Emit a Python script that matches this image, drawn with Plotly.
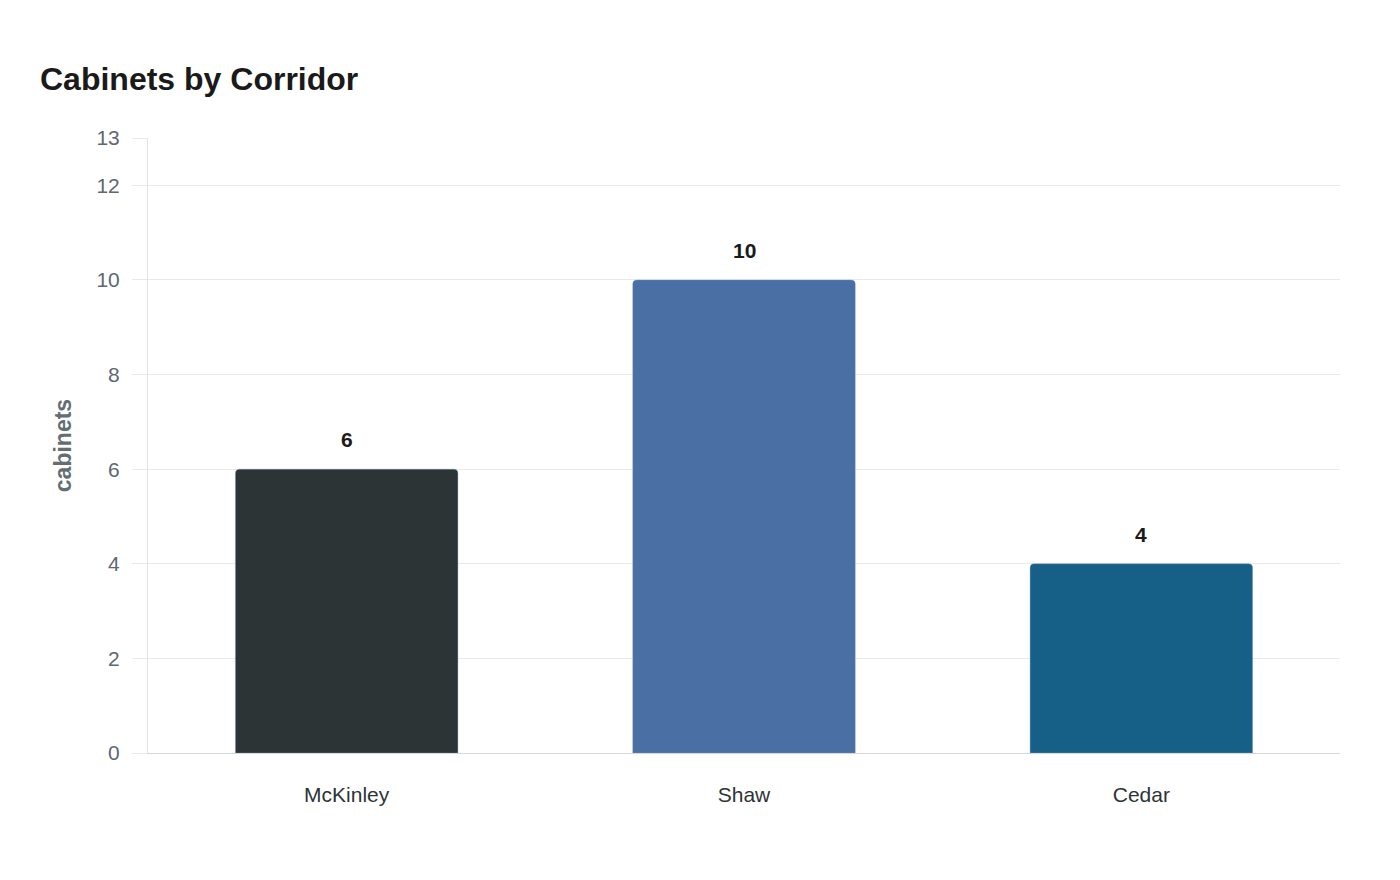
import plotly.graph_objects as go

corridors = ["McKinley", "Shaw", "Cedar"]
cabinets = [6, 10, 4]
bar_colors = ["#2d3436", "#4a6fa5", "#166088"]
y_ticks = [0, 2, 4, 6, 8, 10, 12, 13]

FONT = "Liberation Sans, Arial, sans-serif"

fig = go.Figure()
fig.add_trace(go.Bar(
    x=corridors, y=cabinets,
    marker=dict(color=bar_colors, line=dict(color="rgba(120,160,200,0.6)", width=0.6)),
    width=0.56,
    hoverinfo="x+y",
))

for c, v in zip(corridors, cabinets):
    fig.add_annotation(x=c, y=v, text=f"<b>{v}</b>", showarrow=False,
                       yanchor="bottom", yshift=16,
                       font=dict(family=FONT, size=21, color="#1a1a1a"))

fig.update_layout(
    width=1400, height=880,
    paper_bgcolor="white", plot_bgcolor="white",
    margin=dict(l=148, r=60, t=138, b=127),
    barcornerradius=4,
    showlegend=False,
    title=dict(text="<b>Cabinets by Corridor</b>", x=40/1400, xanchor="left",
               y=1-79/880, yanchor="middle",
               font=dict(family=FONT, size=32, color="#1a1a1a")),
    font=dict(family=FONT),
)
fig.update_xaxes(
    range=[-0.5, 2.5],
    showline=True, linecolor="#d5d8dc", linewidth=1,
    showgrid=False, ticks="",
    tickfont=dict(family=FONT, size=21, color="#2d3436"),
    ticklabelstandoff=23,
)
fig.update_yaxes(
    range=[0, 13], tickvals=y_ticks,
    showgrid=True, gridcolor="#e9e9e9", gridwidth=1,
    showline=True, linecolor="#e3e3e3", linewidth=1,
    ticks="outside", ticklen=15, tickcolor="#e9e9e9",
    zeroline=False,
    tickfont=dict(family=FONT, size=21, color="#5f6770"),
    ticklabelstandoff=8,
    title=dict(text="<b>cabinets</b>", standoff=18,
               font=dict(family=FONT, size=23, color="#636e72")),
)

fig.write_html("out.html")
